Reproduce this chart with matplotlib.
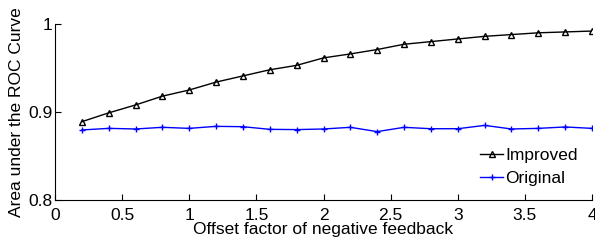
import numpy as np
import matplotlib
matplotlib.use("Agg")
import matplotlib.pyplot as plt

plt.rcParams['font.family'] = ['Liberation Sans', 'DejaVu Sans']

offset = [0.2, 0.4, 0.6, 0.8, 1.0, 1.2, 1.4, 1.6, 1.8, 2.0,
          2.2, 2.4, 2.6, 2.8, 3.0, 3.2, 3.4, 3.6, 3.8, 4.0]
improved = [0.889, 0.899, 0.908, 0.918, 0.925, 0.934, 0.941, 0.948, 0.953, 0.9615,
            0.966, 0.971, 0.977, 0.980, 0.983, 0.986, 0.988, 0.990, 0.991, 0.992]
original = [0.8796, 0.8814, 0.8807, 0.8826, 0.8814, 0.8837, 0.8833, 0.8803, 0.8800, 0.8807,
            0.8826, 0.8777, 0.8826, 0.8810, 0.8810, 0.8848, 0.8807, 0.8814, 0.8830, 0.8814]

fig = plt.figure(figsize=(5.95, 2.45), dpi=100)
ax = fig.add_axes([0.0924, 0.1837, 0.9026, 0.7183])

ax.plot(offset, improved, color='k', marker='^', ms=5, mfc='none', mew=1.0, lw=1.0, label='Improved')
ax.plot(offset, original, color='b', marker='+', ms=4, mew=1.0, lw=1.0, label='Original')

ax.set_xlim(0, 4)
ax.set_ylim(0.8, 1.0)
ax.set_xticks(np.arange(0, 4.01, 0.5))
ax.set_xticklabels(['0', '0.5', '1', '1.5', '2', '2.5', '3', '3.5', '4'])
ax.set_yticks([0.8, 0.9, 1.0])
ax.set_yticklabels(['0.8', '0.9', '1'])
ax.tick_params(direction='in', length=4, labelsize=12.5)
ax.tick_params(axis='x', pad=6)
ax.tick_params(axis='y', pad=2)

ax.spines['top'].set_visible(False)
ax.spines['right'].set_visible(False)

ax.set_xlabel('Offset factor of negative feedback', fontsize=12.5, labelpad=-1)
ax.set_ylabel('Area under the ROC Curve', fontsize=12.5, labelpad=3)

ax.legend(loc='lower right', frameon=False, fontsize=12.5, numpoints=1,
          handlelength=1.3, handletextpad=0.15, labelspacing=0.45, borderpad=0,
          bbox_to_anchor=(0.99, 0.03))

fig.savefig('out.png', dpi=100)
